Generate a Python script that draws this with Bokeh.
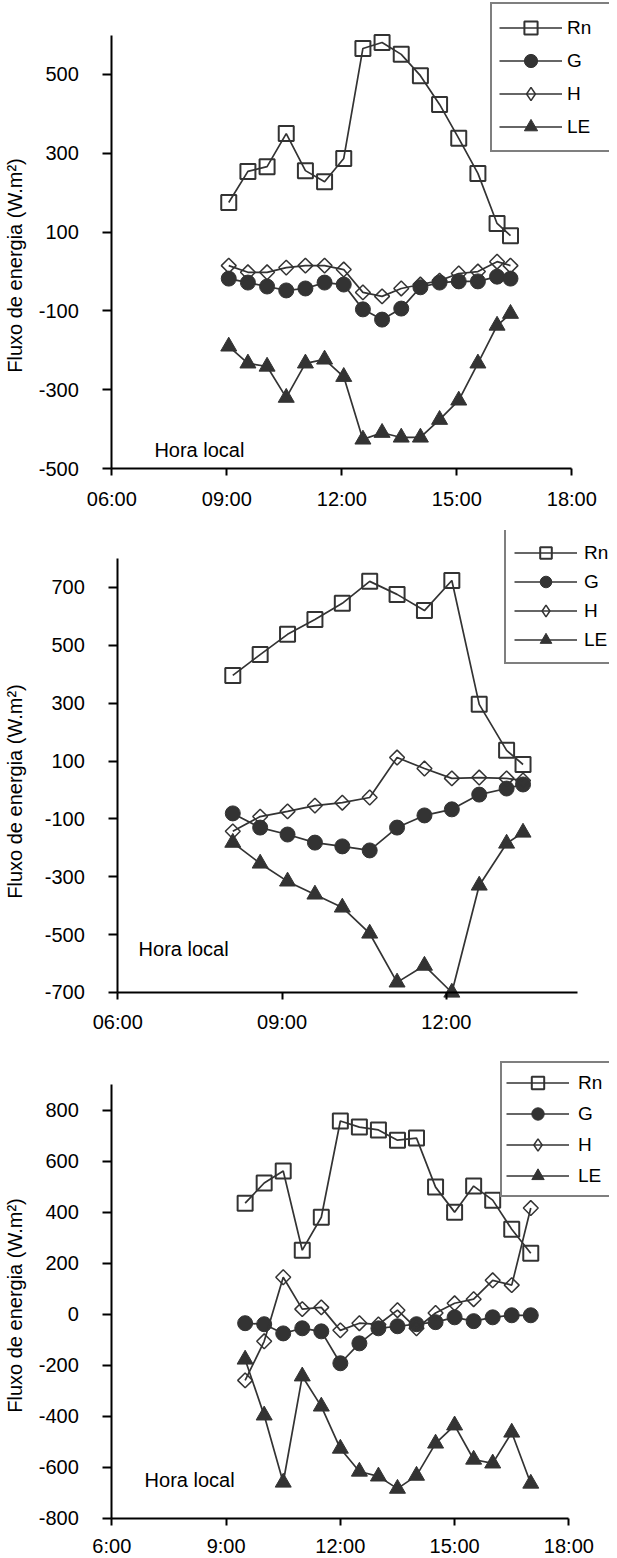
from bokeh.plotting import figure
from bokeh.layouts import column
from bokeh.models import Range1d, FixedTicker, Legend, LegendItem, Label, LinearAxis
from bokeh.embed import file_html
from bokeh.resources import INLINE

# ---------------- data (hours as decimal, W.m-2) ----------------
# Panel 1
t1 = [9.05, 9.55, 10.05, 10.55, 11.05, 11.55, 12.05, 12.55, 13.05, 13.55,
      14.05, 14.55, 15.05, 15.55, 16.05, 16.4]
rn1 = [175, 254, 266, 350, 256, 228, 287, 566, 581, 551, 497, 424, 338, 249, 122, 91]
g1 = [-18, -28, -38, -48, -43, -28, -33, -96, -122, -94, -40, -28, -25, -25, -13, -18]
h1 = [15, -2, -2, 10, 15, 15, 5, -53, -63, -43, -33, -23, -5, 0, 25, 15]
le1 = [-190, -233, -241, -320, -233, -223, -267, -426, -409, -421, -421, -376, -327, -233, -137, -107]
xt1 = [6, 9, 12, 15, 18]
xl1 = ["06:00", "09:00", "12:00", "15:00", "18:00"]
yt1 = [-500, -300, -100, 100, 300, 500]

# Panel 2
t2 = [8.1, 8.6, 9.1, 9.6, 10.1, 10.6, 11.1, 11.6, 12.1, 12.6, 13.1, 13.4]
rn2 = [396, 468, 538, 589, 645, 721, 676, 620, 724, 296, 137, 88]
g2 = [-81, -130, -154, -182, -195, -209, -130, -88, -67, -16, 5, 19]
h2 = [-143, -92, -74, -54, -44, -26, 112, 74, 40, 43, 40, 33]
le2 = [-182, -254, -316, -361, -406, -496, -665, -607, -700, -330, -185, -147]
xt2 = [6, 9, 12]
xl2 = ["06:00", "09:00", "12:00"]
yt2 = [-700, -500, -300, -100, 100, 300, 500, 700]

# Panel 3
t3 = [9.5, 10.0, 10.5, 11.0, 11.5, 12.0, 12.5, 13.0, 13.5, 14.0, 14.5, 15.0,
      15.5, 16.0, 16.5, 17.0]
rn3 = [435, 514, 561, 251, 380, 757, 733, 722, 682, 690, 498, 400, 502, 447, 333, 239]
g3 = [-35, -39, -75, -55, -67, -192, -114, -55, -47, -39, -31, -12, -27, -12, -4, -4]
h3 = [-259, -106, 145, 20, 27, -63, -35, -40, 16, -55, 5, 43, 59, 133, 114, 416]
le3 = [-177, -396, -659, -243, -361, -526, -616, -635, -683, -632, -506, -435, -569, -584, -463, -663]
xt3 = [6, 9, 12, 15, 18]
xl3 = ["6:00", "9:00", "12:00", "15:00", "18:00"]
yt3 = [-800, -600, -400, -200, 0, 200, 400, 600, 800]

series_names = ["Rn", "G", "H", "LE"]
y_title = "Fluxo de energia (W.m²)"
x_note = "Hora local"

FONT = "Liberation Sans"
LC = "#333333"


def style_axis(ax):
    ax.axis_line_width = 2
    ax.axis_line_color = "black"
    ax.major_tick_line_width = 2
    ax.major_tick_line_color = "black"
    ax.major_tick_in = 0
    ax.minor_tick_line_color = None
    ax.major_label_text_font = FONT
    ax.major_label_text_font_size = "20px"
    ax.major_label_text_color = "black"


def panel(t, rn, g, h, le, xr, yr, xb, yb, xt, xl, yt, height, xstand,
          leg_loc, leg_pad, leg_gh, leg_lw, leg_standoff, note_xy):
    p = figure(width=609, height=height, output_backend="svg", toolbar_location=None,
               x_range=Range1d(*xr), y_range=Range1d(*yr),
               min_border_left=30, min_border_right=0,
               min_border_top=0, min_border_bottom=0)
    p.outline_line_color = None
    p.xgrid.grid_line_color = None
    p.ygrid.grid_line_color = None
    p.background_fill_color = "white"
    p.border_fill_color = "white"

    # x axis fixed on the lowest y value
    xa = p.xaxis[0]
    style_axis(xa)
    xa.fixed_location = yb[0]
    xa.bounds = xb
    xa.ticker = FixedTicker(ticks=xt)
    xa.major_label_overrides = {v: s for v, s in zip(xt, xl)}
    xa.major_tick_out = 7
    xa.major_label_standoff = xstand

    # the default left axis only carries the title
    ya0 = p.yaxis[0]
    ya0.ticker = FixedTicker(ticks=[])
    ya0.axis_line_color = None
    ya0.major_tick_line_color = None
    ya0.minor_tick_line_color = None
    ya0.axis_label = y_title
    ya0.axis_label_text_font = FONT
    ya0.axis_label_text_font_size = "20px"
    ya0.axis_label_text_font_style = "normal"
    ya0.axis_label_text_color = "black"
    ya0.axis_label_standoff = 10

    # the visible y axis, fixed at the first hour tick
    ya = LinearAxis(fixed_location=xb[0], bounds=yb, ticker=FixedTicker(ticks=yt),
                    major_label_overrides={v: str(v) for v in yt})
    style_axis(ya)
    ya.major_tick_out = 9
    ya.major_label_standoff = 24
    p.add_layout(ya, "left")

    items = []
    # Rn
    l1 = p.line(t, rn, line_color=LC, line_width=1.7)
    m1 = p.scatter(t, rn, marker="square", size=15, line_color=LC, line_width=2,
                   fill_alpha=0)
    items.append(LegendItem(label=series_names[0], renderers=[l1, m1]))
    # G
    l2 = p.line(t, g, line_color=LC, line_width=1.7)
    m2 = p.scatter(t, g, marker="circle", size=15, line_color=LC, fill_color=LC)
    items.append(LegendItem(label=series_names[1], renderers=[l2, m2]))
    # H
    l3 = p.line(t, h, line_color=LC, line_width=1.7)
    p.scatter(t, h, marker="square", angle=0.785398, size=10.5, line_color=LC,
              line_width=1.5, fill_alpha=0)
    key_h = p.scatter(t, h, marker="diamond", size=14, line_color=LC,
                      line_width=1.5, fill_alpha=0, visible=False)
    items.append(LegendItem(label=series_names[2], renderers=[l3, key_h]))
    # LE
    l4 = p.line(t, le, line_color=LC, line_width=1.7)
    m4 = p.scatter(t, le, marker="triangle", size=16, line_color=LC, fill_color=LC)
    items.append(LegendItem(label=series_names[3], renderers=[l4, m4]))

    leg = Legend(items=items, location=leg_loc, orientation="vertical",
                 border_line_color="black", border_line_width=2,
                 background_fill_color="white", background_fill_alpha=1,
                 padding=leg_pad, spacing=0, margin=0,
                 glyph_width=63, glyph_height=leg_gh,
                 label_standoff=leg_standoff, label_width=leg_lw,
                 label_text_font=FONT, label_text_font_size="19px",
                 label_text_color="black", label_text_baseline="middle")
    p.add_layout(leg, "center")

    p.add_layout(Label(x=note_xy[0], y=note_xy[1], text=x_note, text_font=FONT,
                       text_font_size="20px", text_baseline="middle",
                       text_align="left", text_color="black"))
    return p


p1 = panel(t1, rn1, g1, h1, le1, (4.0086, 18.983), (-657.1, 687.7), (6, 18), (-500, 600),
           xt1, xl1, yt1, 530, 12, (455, 378), 7, 33, 40, 5, (7.11, -454))
p2 = panel(t2, rn2, g2, h2, le2, (4.4974, 14.979), (-907.4, 896.8), (6, 14.4), (-700, 800),
           xt2, xl2, yt2, 522, 12, (469, 388), 8, 29, 22, 7, (6.38, -548))
p3 = panel(t3, rn3, g3, h3, le3, (3.9957, 19.067), (-956.7, 1025.3), (6, 18), (-800, 900),
           xt3, xl3, yt3, 506, 10, (465, 361), 4, 31, 32, 9, (6.86, -651))

layout = column(p1, p2, p3, spacing=0)
open("out.html", "w").write(file_html(layout, INLINE))
